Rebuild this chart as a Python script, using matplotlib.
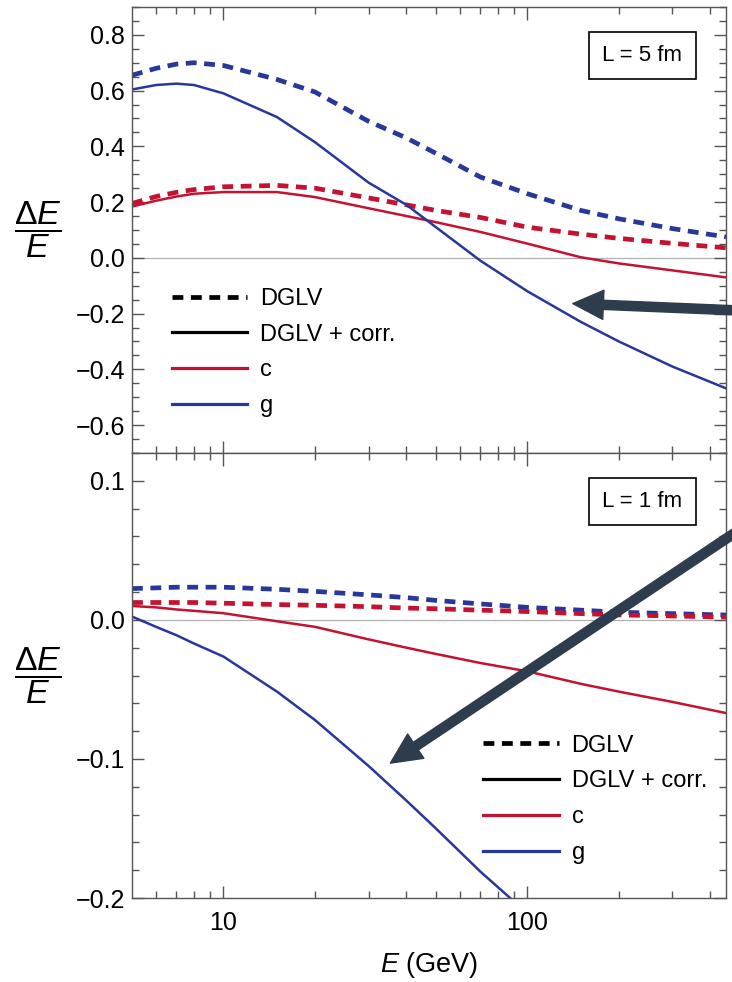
import numpy as np
import matplotlib.pyplot as plt
from matplotlib.lines import Line2D

plt.rcParams['font.family'] = ['Liberation Sans', 'DejaVu Sans']
plt.rcParams['mathtext.fontset'] = 'custom'
plt.rcParams['mathtext.rm'] = 'Liberation Sans'
plt.rcParams['mathtext.it'] = 'Liberation Sans:italic'

# energies (GeV)
energy = [5, 6, 7, 8, 10, 15, 20, 30, 40, 50, 70, 100, 150, 200, 300, 450]

# L = 5 fm
g_dglv_5 = [0.655, 0.68, 0.695, 0.70, 0.69, 0.64, 0.595, 0.49, 0.43, 0.375, 0.29, 0.23, 0.17, 0.14, 0.105, 0.075]
g_corr_5 = [0.604, 0.62, 0.625, 0.62, 0.59, 0.505, 0.415, 0.27, 0.19, 0.11, -0.01, -0.12, -0.23, -0.30, -0.39, -0.468]
c_dglv_5 = [0.195, 0.22, 0.235, 0.245, 0.255, 0.26, 0.25, 0.215, 0.19, 0.17, 0.145, 0.11, 0.085, 0.07, 0.052, 0.036]
c_corr_5 = [0.184, 0.205, 0.22, 0.23, 0.236, 0.236, 0.218, 0.178, 0.15, 0.128, 0.093, 0.051, 0.002, -0.02, -0.045, -0.07]

# L = 1 fm
g_dglv_1 = [0.0225, 0.023, 0.0235, 0.0235, 0.0235, 0.022, 0.0205, 0.018, 0.016, 0.014, 0.0115, 0.009, 0.007, 0.0055, 0.0045, 0.0035]
g_corr_1 = [0.0024, -0.005, -0.011, -0.017, -0.0264, -0.0516, -0.072, -0.105, -0.130, -0.150, -0.181, -0.211, np.nan, np.nan, np.nan, np.nan]
c_dglv_1 = [0.0125, 0.0125, 0.0125, 0.0125, 0.012, 0.011, 0.0105, 0.0095, 0.0085, 0.008, 0.007, 0.006, 0.0045, 0.0036, 0.0028, 0.002]
c_corr_1 = [0.010, 0.009, 0.0075, 0.0065, 0.0048, -0.001, -0.005, -0.014, -0.020, -0.0245, -0.031, -0.037, -0.046, -0.0516, -0.059, -0.067]

# axis ticks
yticks_5 = [-0.6, -0.4, -0.2, 0.0, 0.2, 0.4, 0.6, 0.8]
yticks_1 = [-0.2, -0.1, 0.0, 0.1]
xticks = [10, 100]
xminor = [6, 7, 8, 9, 20, 30, 40, 50, 60, 70, 80, 90, 200, 300, 400]

red = '#c41230'
blue = '#28379a'
arrow_col = '#2e3d4d'
frame = '#555555'
dash = (0, (2.3, 1.6))

fig = plt.figure(figsize=(7.32, 9.82), dpi=100)
ax1 = fig.add_axes([0.1803, 0.5387, 0.8115, 0.4542])
ax2 = fig.add_axes([0.1803, 0.0855, 0.8115, 0.4532])


def style(ax, ylim, ticks, minor):
    ax.set_xscale('log')
    ax.set_xlim(5, 450)
    ax.axhline(0, color='#b0b0b0', lw=0.9, zorder=0)
    ax.set_yticks(ticks)
    ax.set_yticklabels(['{:.1f}'.format(v).replace('-', '\u2212') for v in ticks])
    ax.set_yticks(np.arange(-1, 1.001, minor), minor=True)
    ax.set_ylim(*ylim)
    ax.set_xticks(xticks)
    ax.set_xticklabels([str(v) for v in xticks])
    ax.set_xticks(xminor, minor=True)
    ax.set_xticklabels([], minor=True)
    ax.tick_params(which='both', direction='in', top=True, right=True, color=frame,
                   labelsize=18, width=1.0)
    ax.tick_params(axis='y', which='major', length=8.5, pad=5)
    ax.tick_params(axis='y', which='minor', length=5)
    ax.tick_params(axis='x', which='major', length=9, pad=9)
    ax.tick_params(axis='x', which='minor', length=5)
    for s in ax.spines.values():
        s.set_color(frame)
        s.set_linewidth(1.0)
    ax.set_ylabel(r'$\dfrac{\Delta E}{E}$', fontsize=24.5, rotation=0, ha='center', va='center')
    ax.yaxis.set_label_coords(-0.159, 0.5)


def curves(ax, gd, gc, cd, cc):
    ax.plot(energy, gd, color=blue, lw=3.4, ls=dash)
    ax.plot(energy, cd, color=red, lw=3.4, ls=dash)
    ax.plot(energy, cc, color=red, lw=1.8)
    ax.plot(energy, gc, color=blue, lw=1.8)


def legend(ax, x, y):
    handles = [Line2D([], [], color='black', lw=3.4, ls=dash),
               Line2D([], [], color='black', lw=2.3),
               Line2D([], [], color=red, lw=2.3),
               Line2D([], [], color=blue, lw=2.3)]
    ax.legend(handles, ['DGLV', 'DGLV + corr.', 'c', 'g'], loc='upper left',
              bbox_to_anchor=(x, y), frameon=False, fontsize=17, handlelength=3.2,
              handletextpad=0.55, labelspacing=0.58, borderpad=0, borderaxespad=0)


style(ax1, (-0.7, 0.9), yticks_5, 0.05)
style(ax2, (-0.2, 0.12), yticks_1, 0.02)
curves(ax1, g_dglv_5, g_corr_5, c_dglv_5, c_corr_5)
curves(ax2, g_dglv_1, g_corr_1, c_dglv_1, c_corr_1)
ax1.tick_params(axis='x', labelbottom=False)
legend(ax1, 0.067, 0.37)
legend(ax2, 0.591, 0.367)

for ax, txt in [(ax1, 'L = 5 fm'), (ax2, 'L = 1 fm')]:
    ax.text(0.859, 0.891, txt, transform=ax.transAxes, ha='center', va='center', fontsize=16,
            bbox=dict(boxstyle='square,pad=0.6', fc='white', ec='black', lw=1.2))

ax2.set_xlabel(r'$E$ (GeV)', fontsize=19.5, labelpad=11)

# arrows pointing in from beyond the right edge
arrow = dict(arrowstyle='simple,head_length=1.1,head_width=1.05,tail_width=0.33',
             color=arrow_col, mutation_scale=20, shrinkA=0, shrinkB=0)
ax1.annotate('', xy=(141, -0.164), xycoords='data', xytext=(775, 670),
             textcoords='figure pixels', arrowprops=arrow, annotation_clip=False)
ax2.annotate('', xy=(35.4, -0.103), xycoords='data', xytext=(775, 476),
             textcoords='figure pixels', arrowprops=arrow, annotation_clip=False)

fig.savefig('out.png', dpi=100)
